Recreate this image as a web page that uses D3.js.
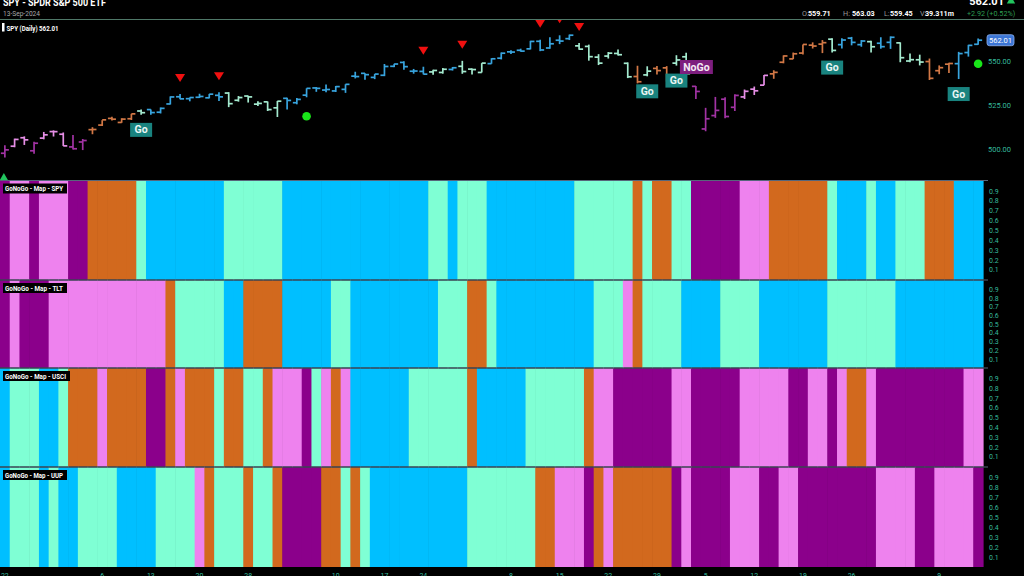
<!DOCTYPE html>
<html><head><meta charset="utf-8">
<script src="https://cdn.jsdelivr.net/npm/d3@7"></script>
<style>
html,body{margin:0;padding:0;background:#000;overflow:hidden}
svg{display:block}
text{font-family:Roboto,"Liberation Sans",sans-serif}
</style></head><body>
<svg id="chart" width="1024" height="576"></svg>
<script>
// ---------------- DATA ----------------
const dates = ["2024-04-22","2024-04-23","2024-04-24","2024-04-25","2024-04-26","2024-04-29","2024-04-30","2024-05-01","2024-05-02","2024-05-03",
"2024-05-06","2024-05-07","2024-05-08","2024-05-09","2024-05-10","2024-05-13","2024-05-14","2024-05-15","2024-05-16","2024-05-17",
"2024-05-20","2024-05-21","2024-05-22","2024-05-23","2024-05-24","2024-05-28","2024-05-29","2024-05-30","2024-05-31","2024-06-03",
"2024-06-04","2024-06-05","2024-06-06","2024-06-07","2024-06-10","2024-06-11","2024-06-12","2024-06-13","2024-06-14","2024-06-17",
"2024-06-18","2024-06-20","2024-06-21","2024-06-24","2024-06-25","2024-06-26","2024-06-27","2024-06-28","2024-07-01","2024-07-02",
"2024-07-03","2024-07-05","2024-07-08","2024-07-09","2024-07-10","2024-07-11","2024-07-12","2024-07-15","2024-07-16","2024-07-17",
"2024-07-18","2024-07-19","2024-07-22","2024-07-23","2024-07-24","2024-07-25","2024-07-26","2024-07-29","2024-07-30","2024-07-31",
"2024-08-01","2024-08-02","2024-08-05","2024-08-06","2024-08-07","2024-08-08","2024-08-09","2024-08-12","2024-08-13","2024-08-14",
"2024-08-15","2024-08-16","2024-08-19","2024-08-20","2024-08-21","2024-08-22","2024-08-23","2024-08-26","2024-08-27","2024-08-28",
"2024-08-29","2024-08-30","2024-09-03","2024-09-04","2024-09-05","2024-09-06","2024-09-09","2024-09-10","2024-09-11","2024-09-12",
"2024-09-13"];

const opens = [497.8,501.8,506.6,499.2,506.4,510.1,508.6,501.4,504.2,511.2, 513.8,517.6,515.3,517.4,521.8,522.6,521.1,525.8,529.9,528.8,
529.6,529.3,530.7,532.0,527.9,530.3,525.7,527.0,523.6,529.0, 526.5,530.8,534.9,533.7,533.2,534.1,541.6,543.2,540.9,542.1,
547.2,549.4,544.4,544.3,544.0,543.7,545.4,547.2,545.6,543.7, 548.7,551.8,555.4,556.3,557.1,561.4,557.6,562.0,562.9,558.8,
558.5,552.4,553.0,554.5,548.9,541.4,542.3,546.0,546.3,549.0, 552.6,535.8,511.6,519.2,528.5,523.9,529.8,534.2,536.5,542.9,
549.5,551.4,554.7,559.2,559.8,562.6,559.5,563.2,559.5,561.2, 560.3,560.8,560.5,550.2,550.9,549.9,544.7,548.4,548.7,555.0,
559.71];
const highs = [502.4,506.1,507.4,504.3,509.9,510.8,509.6,508.2,505.9,512.6, 516.6,518.6,517.7,520.2,522.6,522.7,523.8,530.1,531.5,529.5,
531.6,531.5,532.4,532.5,530.3,530.5,527.3,527.2,527.5,529.3, 529.2,534.7,535.4,536.8,536.0,537.0,544.1,543.3,542.8,548.5,
548.6,550.1,545.7,546.95,545.2,546.2,546.8,550.3,545.9,549.0, 551.8,555.05,556.25,557.2,561.67,562.3,563.7,564.8,565.2,560.5,
559.5,554.1,555.3,556.7,549.4,547.5,547.2,547.4,547.3,553.5, 554.9,536.0,523.6,529.8,529.6,531.3,534.0,535.7,542.3,544.96,
553.4,555.0,559.6,560.8,562.1,563.2,563.1,563.9,562.1,561.65, 563.7,564.2,560.8,554.4,553.8,551.6,547.7,549.15,555.4,559.4,
563.03];
const lows = [495.4,501.2,502.5,497.5,505.7,507.3,501.9,499.9,499.6,508.6, 513.3,516.4,515.1,516.7,519.6,519.7,520.4,525.5,528.5,527.3,
529.2,529.0,527.5,524.0,527.1,526.6,524.6,521.8,518.4,522.6, 525.6,529.6,532.7,532.5,532.6,532.1,540.3,539.6,539.9,541.6,
546.7,545.2,543.0,542.6,542.4,543.0,544.8,542.95,542.5,543.7, 548.65,551.1,554.2,555.5,556.8,555.8,557.2,559.8,562.1,556.6,
550.4,547.9,551.6,553.3,540.5,537.5,541.5,542.6,538.5,547.6, 539.4,528.6,510.3,517.9,517.7,521.8,528.6,530.9,536.4,540.1,
548.9,551.3,553.9,557.3,554.7,554.98,557.3,559.1,558.3,555.0, 557.2,557.1,549.5,549.5,547.7,539.4,542.7,543.4,539.96,552.7,
559.45];
const closes = [499.72,505.65,505.41,503.49,508.26,510.06,501.98,500.35,505.03,511.29, 516.78,517.14,517.19,520.17,520.84,520.91,523.30,529.78,528.69,529.45,
530.06,531.36,529.83,525.96,529.44,529.81,526.10,522.61,527.37,527.80, 528.39,534.67,534.66,534.01,535.66,536.95,541.36,542.45,542.78,547.10,
548.49,547.00,544.51,542.74,544.83,545.51,546.37,544.22,545.34,549.01, 551.46,554.64,555.28,555.82,561.32,556.48,559.99,561.53,564.86,556.94,
552.66,548.99,554.65,553.78,541.23,538.41,544.44,544.76,542.00,550.81, 543.01,532.90,517.38,522.15,518.66,530.65,532.99,533.27,542.04,543.75,
553.07,554.31,559.61,558.70,560.62,556.22,562.13,560.79,561.56,558.30, 558.35,563.68,552.08,550.95,549.61,540.36,546.41,548.79,554.42,559.09,
562.01];
const volumeLast = "39.311m";

// GoNoGo states per bar: G strong Go, g weak Go, A amber, n weak NoGo, N strong NoGo
const spyStates  = "NnnNnnnNN" + "AAAAA" + "g" + "GGGGGGGG" + "gggggg" + "GGGGGGGGGGGGGGG" + "gg" + "G" + "ggg" + "GGGGGGGGG" + "gggggg" + "A" + "g" + "AA" + "gg" + "NNNNN" + "nnn" + "AAAAAA" + "g" + "GGG" + "g" + "GG" + "ggg" + "AAA" + "GGG";
const tltStates  = "NnNNN" + "nnnnnnnnnnnn" + "A" + "ggggg" + "GG" + "AAAA" + "GGGGG" + "gg" + "GGGGGGGGG" + "ggg" + "AA" + "g" + "GGGGGGGGGG" + "ggg" + "n" + "A" + "gggg" + "GGGG" + "gggg" + "GGGGGGG" + "ggggggg" + "GGGGGGGGG";
const usciStates = "GgggGGg" + "AAAnAAAANNAnAAAgAAggA" + "nnnNgnAn" + "GGGGGG" + "gggggg" + "A" + "GGGGG" + "gggggg" + "A" + "nn" + "NNNNNN" + "nn" + "NNNNN" + "nnnnn" + "NN" + "nn" + "N" + "n" + "AA" + "n" + "NNNNNNNNN" + "nn";
const uupStates  = "GgggGgGG" + "gggg" + "GGGG" + "gggg" + "nA" + "ggg" + "A" + "gg" + "A" + "NNNN" + "AA" + "gAg" + "GGGGGGGGGG" + "ggggggg" + "AA" + "nnn" + "NAn" + "AAAAAA" + "Nn" + "NNNN" + "nnn" + "NN" + "nn" + "NNNNNNNN" + "nnnn" + "NN" + "nnnn" + "N";

const mapNames = ["SPY","TLT","USCI","UUP"];
const mapStates = [spyStates, tltStates, usciStates, uupStates];

const sellSignals = ["2024-05-16","2024-05-22","2024-06-24","2024-06-28","2024-07-11","2024-07-15","2024-07-17"];
const dotSignals  = ["2024-06-05","2024-09-13"];
const goLabels    = ["2024-05-10","2024-07-26","2024-07-31","2024-08-22","2024-09-11"];
const noGoLabels  = ["2024-08-02"];
const upSignals   = ["2024-04-22"];

const priceTicks = [500, 525, 550];
const mapTicks = [0.1,0.2,0.3,0.4,0.5,0.6,0.7,0.8,0.9];
const xTickDates = ["2024-04-22","2024-05-06","2024-05-13","2024-05-20","2024-05-28","2024-06-10","2024-06-17","2024-06-24",
"2024-07-08","2024-07-15","2024-07-22","2024-07-29","2024-08-05","2024-08-12","2024-08-19","2024-08-26","2024-09-09"];

// ---------------- STYLE / LAYOUT ----------------
const mapColors = {G:"#00bfff", g:"#7fffd4", A:"#d2691e", n:"#ee82ee", N:"#8b008b"};
const barColors = {G:"#38a4de", g:"#a4eacf", A:"#d27846", n:"#e68ee6", N:"#a233a4"};
const axisColor = "#35b99c";
const mapLayout = [{top:181, bottom:279.5},{top:280.5, bottom:367.5},{top:368.5, bottom:466.5},{top:467.5, bottom:567}];
const plotRight = 983;

const svg = d3.select("#chart");
svg.append("rect").attr("width",1024).attr("height",576).attr("fill","#000");

const x = d3.scaleBand().domain(dates).range([0, plotRight]).padding(0);
const bw = x.bandwidth();
const cx = d => x(d) + bw/2;
const y = d3.scaleLinear().domain([482.6, 573.5]).range([180, 20]);
const idx = d => dates.indexOf(d);

// ---------------- HEADER ----------------
svg.append("text").attr("x",3).attr("y",5.5).attr("fill","#fff").attr("font-weight","bold")
  .attr("font-size",10.5).attr("textLength",103).attr("lengthAdjust","spacingAndGlyphs").text("SPY - SPDR S&P 500 ETF");
svg.append("text").attr("x",3).attr("y",16).attr("fill","#a8a8a8").attr("font-size",6.5)
  .attr("textLength",37).attr("lengthAdjust","spacingAndGlyphs").text("13-Sep-2024");

const n = closes.length - 1;
svg.append("text").attr("x",1004).attr("y",4.5).attr("text-anchor","end").attr("fill","#fff")
  .attr("font-weight","bold").attr("font-size",11).text(closes[n].toFixed(2));
svg.append("path").attr("d", d3.symbol(d3.symbolTriangle, 30)()).attr("transform","translate(1011,1)").attr("fill","#22c55e");

const chg = closes[n]-closes[n-1];
const hdr = [
  {x:802, t:"O:", c:"#9a9a9a", b:false}, {x:808, t:opens[n].toFixed(2), c:"#fff", b:true},
  {x:843, t:"H:", c:"#9a9a9a", b:false}, {x:852, t:highs[n].toFixed(2), c:"#fff", b:true},
  {x:884, t:"L:", c:"#9a9a9a", b:false}, {x:890, t:lows[n].toFixed(2), c:"#fff", b:true},
  {x:920, t:"V:", c:"#9a9a9a", b:false}, {x:925, t:volumeLast, c:"#fff", b:true},
  {x:967, t:(chg>=0?"+":"")+chg.toFixed(2)+" (+"+(chg/closes[n-1]*100).toFixed(2)+"%)", c:"#2e9e52", b:false}
];
svg.selectAll("text.hdr").data(hdr).join("text").attr("class","hdr")
  .attr("x",d=>d.x).attr("y",16).attr("fill",d=>d.c).attr("font-size",7.2)
  .attr("font-weight",d=>d.b?"bold":"normal").text(d=>d.t);

svg.append("line").attr("x1",0).attr("x2",1024).attr("y1",19.5).attr("y2",19.5)
  .attr("stroke","#4f7868").attr("stroke-width",1.2);

// ---------------- PRICE PANEL ----------------
svg.append("clipPath").attr("id","pclip").append("rect").attr("x",0).attr("y",20).attr("width",plotRight+4).attr("height",160);
const pg = svg.append("g").attr("clip-path","url(#pclip)");

const bars = dates.map((d,i)=>({d, o:opens[i], h:highs[i], l:lows[i], c:closes[i], s:spyStates[i]}));
const bg = pg.selectAll("g.bar").data(bars).join("g").attr("class","bar")
  .attr("stroke",b=>barColors[b.s]).attr("stroke-width",1.7);
bg.append("line").attr("x1",b=>cx(b.d)).attr("x2",b=>cx(b.d)).attr("y1",b=>y(b.h)).attr("y2",b=>y(b.l));
bg.append("line").attr("x1",b=>cx(b.d)-4).attr("x2",b=>cx(b.d)).attr("y1",b=>y(b.o)).attr("y2",b=>y(b.o));
bg.append("line").attr("x1",b=>cx(b.d)).attr("x2",b=>cx(b.d)+4).attr("y1",b=>y(b.c)).attr("y2",b=>y(b.c));

// sell triangles
pg.selectAll("path.sell").data(sellSignals).join("path").attr("class","sell")
  .attr("d","M-5,-4 L5,-4 L0,4 Z").attr("fill","#f01010")
  .attr("transform",d=>`translate(${cx(d)},${y(highs[idx(d)])-16})`);
// green dots
pg.selectAll("circle.dot").data(dotSignals).join("circle").attr("class","dot")
  .attr("cx",d=>cx(d)).attr("cy",d=>y(lows[idx(d)])+19).attr("r",4.3).attr("fill","#19e619");
// up triangle
pg.selectAll("path.up").data(upSignals).join("path").attr("class","up")
  .attr("d","M-4,4 L4,4 L0,-3 Z").attr("fill","#22c55e")
  .attr("transform",d=>`translate(${cx(d)-1},176)`);
// Go labels
const goG = pg.selectAll("g.go").data(goLabels).join("g").attr("class","go")
  .attr("transform",d=>`translate(${cx(d)},${y(lows[idx(d)])+8})`);
goG.append("rect").attr("x",-11).attr("y",0).attr("width",22).attr("height",14).attr("fill","#19837f");
goG.append("text").attr("x",0).attr("y",10.5).attr("text-anchor","middle").attr("fill","#eaf6f4")
  .attr("font-weight","bold").attr("font-size",10.5).text("Go");
const noG = pg.selectAll("g.nogo").data(noGoLabels).join("g").attr("class","nogo")
  .attr("transform",d=>`translate(${cx(d)},${y(highs[idx(d)])-12})`);
noG.append("rect").attr("x",-16).attr("y",-14).attr("width",33).attr("height",14).attr("fill","#7d1e7e");
noG.append("text").attr("x",0.5).attr("y",-3.5).attr("text-anchor","middle").attr("fill","#f4eaf4")
  .attr("font-weight","bold").attr("font-size",10.5).text("NoGo");

// price axis
const pAxis = svg.append("g").attr("transform","translate(988,0)")
  .call(d3.axisRight(y).tickValues(priceTicks).tickFormat(d3.format(".2f")).tickSize(0).tickPadding(0));
pAxis.select(".domain").remove();
pAxis.selectAll("text").attr("fill",axisColor).attr("font-size",7.5).attr("font-family","Roboto, sans-serif");

// last price tag
const tagY = y(closes[n]);
svg.append("rect").attr("x",987).attr("y",tagY-5.5).attr("width",27).attr("height",11).attr("rx",2.5)
  .attr("fill","#3c76d6").attr("stroke","#8fb4f0").attr("stroke-width",0.8);
svg.append("text").attr("x",1000.5).attr("y",tagY+3).attr("text-anchor","middle").attr("fill","#fff")
  .attr("font-size",7.5).text(closes[n].toFixed(2));

// panel label
svg.append("rect").attr("x",2).attr("y",23).attr("width",2.5).attr("height",8.5).attr("fill","#fff");
svg.append("text").attr("x",6.5).attr("y",30.5).attr("fill","#fff").attr("font-weight","bold").attr("font-size",7.3)
  .attr("textLength",52).attr("lengthAdjust","spacingAndGlyphs").text(`SPY (Daily) ${closes[n].toFixed(2)}`);

// ---------------- HEAT MAPS ----------------
mapNames.forEach((name, k) => {
  const L = mapLayout[k];
  const st = mapStates[k];
  const ym = d3.scaleLinear().domain([0,1]).range([L.bottom, L.top]);
  const g = svg.append("g");
  g.selectAll("rect").data(dates).join("rect")
    .attr("x",d=>x(d)).attr("width",bw+0.6)
    .attr("y",ym(1)).attr("height",ym(0)-ym(1))
    .attr("fill",(d,i)=>mapColors[st[i]]);
  const ax = svg.append("g").attr("transform","translate(989,0)")
    .call(d3.axisRight(ym).tickValues(mapTicks).tickFormat(d3.format(".1f")).tickSize(0).tickPadding(0));
  ax.select(".domain").remove();
  ax.selectAll("text").attr("fill",axisColor).attr("font-size",7).attr("font-family","Roboto, sans-serif");
  // label
  const lab = `GoNoGo - Map - ${name}`;
  const tw = name.length > 3 ? 63 : 60;
  svg.append("rect").attr("x",3).attr("y",L.top+2.5).attr("width",tw+4).attr("height",10).attr("fill","#000");
  svg.append("text").attr("x",5).attr("y",L.top+10.3).attr("fill","#fff").attr("font-weight","bold")
    .attr("font-size",7.2).attr("textLength",tw-2).attr("lengthAdjust","spacingAndGlyphs").text(lab);
});
// separators
const seps = mapLayout.map(l=>l.top-0.5);
svg.selectAll("line.sep").data(seps).join("line").attr("class","sep")
  .attr("x1",0).attr("x2",988).attr("y1",d=>d).attr("y2",d=>d)
  .attr("stroke","#56657a").attr("stroke-width",1.2);

// x axis
const xAxis = svg.append("g").attr("transform","translate(0,570)")
  .call(d3.axisBottom(x).tickValues(xTickDates).tickFormat(d=>+d.slice(8)).tickSize(0).tickPadding(3));
xAxis.select(".domain").remove();
xAxis.selectAll("text").attr("fill",axisColor).attr("font-size",7).attr("font-family","Roboto, sans-serif");
</script>
</body></html>
